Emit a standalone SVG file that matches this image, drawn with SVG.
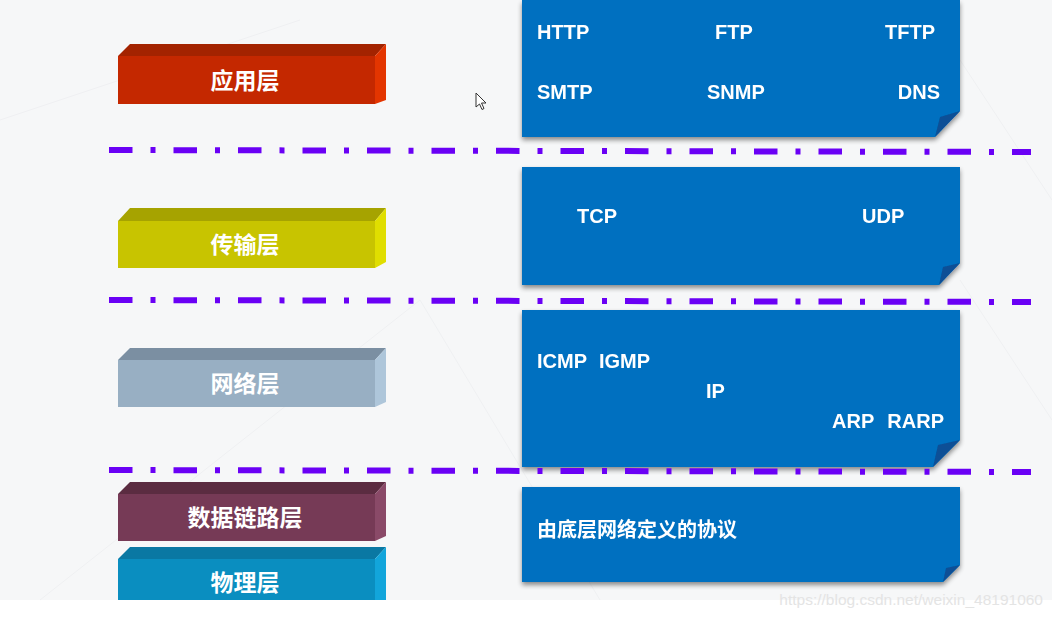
<svg xmlns="http://www.w3.org/2000/svg" width="1052" height="618" viewBox="0 0 1052 618">
<defs>
<style>
.lbl{font-family:"Liberation Sans","Noto Sans CJK SC",sans-serif;font-weight:bold;fill:#ffffff;font-size:23px;text-anchor:middle}
.pt{font-family:"Liberation Sans","Noto Sans CJK SC",sans-serif;font-weight:bold;fill:#ffffff;font-size:20px}
.box{fill:#0070c0}
.fold{fill:#0a4f96}
.sep{stroke:#6a00f5;stroke-width:6;stroke-dasharray:23.5 18 5 18;fill:none}
.wm{font-family:"Liberation Sans",sans-serif;font-size:15.5px;fill:#e4e4e4}
</style>
<filter id="sh" x="-5%" y="-10%" width="110%" height="130%">
<feGaussianBlur in="SourceAlpha" stdDeviation="2.5"/>
<feOffset dx="0" dy="3" result="b"/>
<feComponentTransfer><feFuncA type="linear" slope="0.45"/></feComponentTransfer>
<feMerge><feMergeNode/><feMergeNode in="SourceGraphic"/></feMerge>
</filter>
</defs>
<rect x="0" y="0" width="1052" height="618" fill="#ffffff"/>
<rect x="0" y="0" width="1052" height="600" fill="#f6f7f8"/>
<g stroke="#eff0f2" stroke-width="1" fill="none">
<path d="M0 120 L300 20"/><path d="M40 600 L420 300"/><path d="M420 300 L600 600"/><path d="M960 60 L1052 200"/><path d="M960 280 L1052 420"/>
</g>

<g id="layer-app">
<polygon points="118,56 130,44 386,44 375,56" fill="#a32300"/>
<polygon points="375,56 386,44 386,100 375,104" fill="#e33500"/>
<rect x="118" y="56" width="257" height="48" fill="#c42800"/>
<text class="lbl" x="245" y="89">应用层</text>
</g>
<g id="layer-transport">
<polygon points="118,221 130,208 386,208 375,221" fill="#a6a300"/>
<polygon points="375,221 386,208 386,262 375,268" fill="#e0de00"/>
<rect x="118" y="221" width="257" height="47" fill="#c8c400"/>
<text class="lbl" x="245" y="253">传输层</text>
</g>
<g id="layer-network">
<polygon points="118,360 130,348 386,348 375,360" fill="#7b8fa2"/>
<polygon points="375,360 386,348 386,402 375,407" fill="#aec6da"/>
<rect x="118" y="360" width="257" height="47" fill="#98afc3"/>
<text class="lbl" x="245" y="392">网络层</text>
</g>
<g id="layer-datalink">
<polygon points="118,494 130,482 386,482 375,494" fill="#5b2c41"/>
<polygon points="375,494 386,482 386,536 375,541" fill="#8a4a68"/>
<rect x="118" y="494" width="257" height="47" fill="#763a56"/>
<text class="lbl" x="245" y="526">数据链路层</text>
</g>
<g id="layer-physical">
<polygon points="118,559 130,547 386,547 375,559" fill="#0a78a3"/>
<polygon points="375,559 386,547 386,600 375,600" fill="#12a5db"/>
<rect x="118" y="559" width="257" height="41" fill="#0a8ec0"/>
<text class="lbl" x="245" y="591">物理层</text>
</g>

<g id="box-app" filter="url(#sh)">
<polygon class="box" points="522,0 960,0 960,111 935,137 522,137"/>
<polygon class="fold" points="960,111 935,137 940,117"/>
<text class="pt" x="537" y="39">HTTP</text>
<text class="pt" x="715" y="39">FTP</text>
<text class="pt" x="935" y="39" text-anchor="end">TFTP</text>
<text class="pt" x="537" y="99">SMTP</text>
<text class="pt" x="707" y="99">SNMP</text>
<text class="pt" x="940" y="99" text-anchor="end">DNS</text>
</g>
<g id="box-transport" filter="url(#sh)">
<polygon class="box" points="522,167 960,167 960,263 939,285 522,285"/>
<polygon class="fold" points="960,263 939,285 943,267"/>
<text class="pt" x="577" y="223">TCP</text>
<text class="pt" x="862" y="223">UDP</text>
</g>
<g id="box-network" filter="url(#sh)">
<polygon class="box" points="522,310 960,310 960,440 933,467 522,467"/>
<polygon class="fold" points="960,440 933,467 938,445"/>
<text class="pt" x="537" y="368">ICMP</text>
<text class="pt" x="599" y="368">IGMP</text>
<text class="pt" x="706" y="398">IP</text>
<text class="pt" x="832" y="428">ARP</text>
<text class="pt" x="944" y="428" text-anchor="end">RARP</text>
</g>
<g id="box-datalink" filter="url(#sh)">
<polygon class="box" points="522,487 960,487 960,565 943,582 522,582"/>
<polygon class="fold" points="960,565 943,582 946,568"/>
<text class="pt" x="537" y="537">由底层网络定义的协议</text>
</g>

<g id="connectors">
<line class="sep" x1="109" y1="150" x2="1031" y2="152"/>
<line class="sep" x1="109" y1="300" x2="1031" y2="302"/>
<line class="sep" x1="109" y1="470" x2="1031" y2="472"/>
</g>

<polygon points="476,93 476,107 479.5,104 482,109.5 484,108.5 481.5,103 486,103" fill="#ffffff" stroke="#333333" stroke-width="1"/>
<text class="wm" x="1043" y="605" text-anchor="end">https://blog.csdn.net/weixin_48191060</text>
</svg>
